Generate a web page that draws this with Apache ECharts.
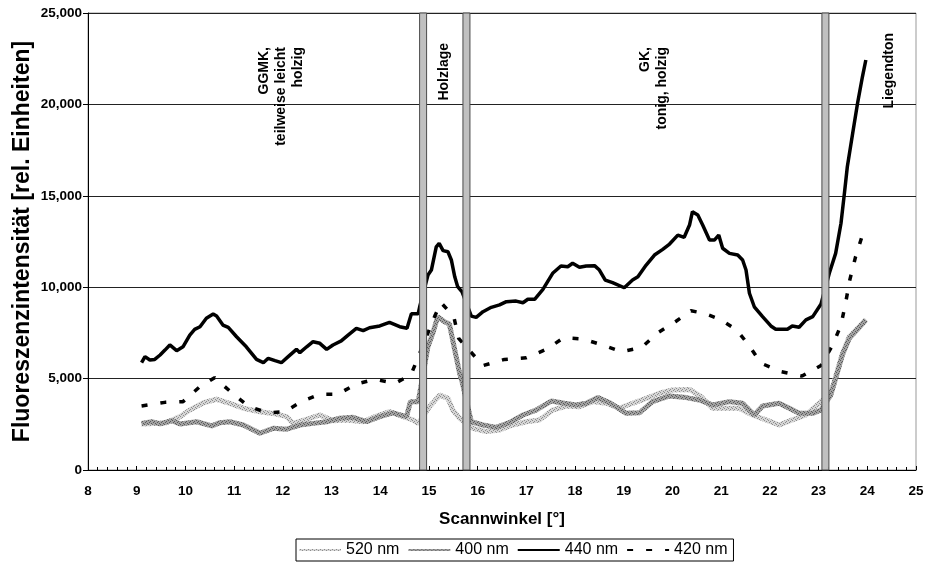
<!DOCTYPE html>
<html>
<head>
<meta charset="utf-8">
<script src="https://cdn.jsdelivr.net/npm/echarts@6/dist/echarts.min.js"></script>
<style>
  html, body { margin: 0; padding: 0; background: #fff; }
  #chart { width: 926px; height: 567px; }
</style>
</head>
<body>
<div id="chart"></div>
<script>
// Fluorescence intensity along the scan angle, four wavelengths: [angle, intensity]
const s520 = [[9.10,2520],[9.34,2550],[9.61,2590],[9.89,2920],[10.09,3280],[10.37,3680],[10.64,3870],[10.91,3650],[11.19,3380],[11.53,3190],[11.87,3060],[12.08,2920],[12.21,2550],[12.55,2830],[12.76,3010],[13.03,2700],[13.31,2740],[13.65,2640],[13.92,2950],[14.19,3190],[14.47,2920],[14.67,2740],[14.78,2550],[15.01,3460],[15.22,4100],[15.39,3920],[15.49,3280],[15.63,2830],[15.90,2280],[16.18,2100],[16.45,2190],[16.72,2460],[17.00,2640],[17.27,2740],[17.54,3280],[17.82,3500],[18.09,3460],[18.36,3740],[18.64,3650],[18.91,3380],[19.18,3650],[19.46,3920],[19.73,4200],[20.00,4380],[20.35,4410],[20.59,4010],[20.82,3380],[21.10,3380],[21.37,3380],[21.64,3010],[21.92,2740],[22.19,2460],[22.46,2740],[22.74,3010],[23.05,3740],[23.25,4200],[23.35,5100],[23.49,6380],[23.63,7290],[23.80,7750],[23.97,8240]];
const s400 = [[9.10,2550],[9.31,2640],[9.48,2520],[9.72,2700],[9.89,2520],[10.23,2640],[10.54,2410],[10.71,2590],[10.91,2640],[11.19,2460],[11.53,2010],[11.80,2280],[12.08,2230],[12.35,2460],[12.62,2550],[12.90,2640],[13.17,2830],[13.44,2880],[13.72,2640],[13.99,2920],[14.26,3130],[14.54,2920],[14.62,3740],[14.78,3740],[14.98,6750],[15.08,7480],[15.18,8390],[15.32,8110],[15.42,7990],[15.53,6560],[15.63,5290],[15.68,4830],[15.87,2640],[16.11,2460],[16.38,2330],[16.65,2590],[16.93,3010],[17.20,3280],[17.51,3770],[17.78,3650],[18.02,3560],[18.23,3650],[18.47,3960],[18.71,3680],[19.05,3100],[19.32,3130],[19.59,3740],[19.94,4050],[20.28,3960],[20.55,3830],[20.82,3560],[21.17,3740],[21.44,3650],[21.68,3010],[21.85,3500],[22.19,3650],[22.40,3380],[22.60,3100],[22.88,3100],[23.05,3280],[23.25,4100],[23.35,5000],[23.49,6300],[23.63,7200],[23.80,7700],[23.97,8200]];
const s440 = [[9.10,5870],[9.17,6200],[9.27,6020],[9.37,6050],[9.48,6290],[9.58,6560],[9.68,6840],[9.82,6530],[9.95,6740],[10.09,7380],[10.19,7690],[10.30,7840],[10.43,8300],[10.57,8530],[10.64,8420],[10.77,7930],[10.88,7800],[11.05,7290],[11.25,6740],[11.46,6050],[11.60,5870],[11.70,6110],[11.84,5980],[11.97,5870],[12.11,6200],[12.28,6600],[12.35,6420],[12.49,6740],[12.62,7020],[12.76,6930],[12.90,6600],[13.03,6840],[13.20,7060],[13.34,7380],[13.51,7750],[13.65,7620],[13.78,7780],[13.99,7880],[14.19,8080],[14.40,7840],[14.55,7750],[14.64,8550],[14.78,8550],[14.81,8930],[14.98,10670],[15.05,10940],[15.15,12210],[15.21,12400],[15.29,12000],[15.39,11940],[15.46,11490],[15.53,10570],[15.59,10030],[15.68,9750],[15.87,8420],[15.97,8350],[16.11,8660],[16.28,8900],[16.45,9030],[16.59,9210],[16.79,9240],[16.93,9150],[17.03,9340],[17.17,9340],[17.34,9880],[17.54,10760],[17.71,11160],[17.85,11120],[17.95,11310],[18.09,11090],[18.23,11160],[18.40,11180],[18.50,10940],[18.62,10390],[18.77,10250],[19.01,9970],[19.18,10390],[19.29,10570],[19.46,11210],[19.63,11760],[19.80,12070],[19.94,12360],[20.11,12850],[20.24,12730],[20.35,13400],[20.41,14130],[20.52,13950],[20.62,13400],[20.76,12580],[20.86,12580],[20.95,12850],[21.03,12130],[21.17,11850],[21.34,11760],[21.44,11490],[21.51,10940],[21.58,9670],[21.68,8930],[21.85,8390],[22.02,7880],[22.12,7700],[22.36,7700],[22.46,7880],[22.60,7810],[22.74,8210],[22.88,8390],[23.05,9080],[23.22,10760],[23.35,11850],[23.46,13500],[23.53,15130],[23.59,16590],[23.70,18420],[23.80,20060],[23.90,21510],[23.97,22430]];
const s420 = [[9.10,3500],[9.58,3700],[9.95,3740],[10.28,4520],[10.60,5050],[10.95,4230],[11.31,3460],[11.70,3130],[12.04,3190],[12.38,3740],[12.76,4140],[13.13,4140],[13.50,4700],[13.89,4960],[14.30,4740],[14.63,5200],[15.12,8420],[15.25,9150],[15.51,8390],[15.61,7200],[16.11,5710],[16.55,6050],[17.00,6140],[17.41,6600],[17.77,7240],[18.16,7170],[18.56,6840],[18.96,6470],[19.37,6710],[19.70,7510],[20.06,8110],[20.38,8710],[20.65,8570],[20.98,8240],[21.32,7660],[21.58,6780],[21.82,5840],[22.23,5380],[22.66,5140],[23.05,5720],[23.29,6840],[23.46,7930],[23.56,9210],[23.64,10390],[23.76,11670],[23.90,12850],[23.97,13100]];

const seriesNames = ['520 nm', '400 nm', '440 nm', '420 nm'];

// Layer boundaries (scan angle) and the layer names written above them
const boundaryAngles = [14.88, 15.77, 23.14];
const layerLabels = ['GGMK,\nteilweise leicht\nholzig', 'Holzlage', 'GK,\ntonig, holzig', 'Liegendton'];

// Axis ranges
const xMin = 8, xMax = 25, xStep = 1;
const yMin = 0, yMax = 25000, yStep = 5000;

const FONT = '"Liberation Sans", Arial, Helvetica, sans-serif';

// Small hatched tile so the grey curves get a textured stroke
function hatch(base, dot) {
  const c = document.createElement('canvas');
  c.width = 4; c.height = 4;
  const g = c.getContext('2d');
  g.fillStyle = base; g.fillRect(0, 0, 4, 4);
  g.fillStyle = dot;
  [[0, 0], [2, 1], [1, 2], [3, 3]].forEach(([x, y]) => g.fillRect(x, y, 1, 1));
  return { image: c, repeat: 'repeat' };
}

const chart = echarts.init(document.getElementById('chart'), null, { renderer: 'canvas' });

function lineSeries(name, data, lineStyle) {
  return {
    name, type: 'line', data, showSymbol: false, symbol: 'none',
    lineStyle, itemStyle: { color: lineStyle.color },
    emphasis: { disabled: true }, silent: true, z: 3
  };
}

function rotatedLabel(text, x, y) {
  return {
    type: 'text', x, y, rotation: Math.PI / 2, z: 20,
    style: {
      text, fill: '#000',
      font: 'bold 14px ' + FONT,
      textAlign: 'right', align: 'right',
      textVerticalAlign: 'middle', verticalAlign: 'middle',
      lineHeight: 17
    }
  };
}

chart.setOption({
  animation: false,
  backgroundColor: '#fff',
  grid: {
    left: 88, right: 10, top: 13, bottom: 97,
    outerBoundsMode: 'none',
    show: true, borderColor: '#999', borderWidth: 1
  },
  xAxis: {
    type: 'value', min: xMin, max: xMax, interval: xStep,
    name: 'Scannwinkel [°]', nameLocation: 'middle', nameGap: 41,
    nameTextStyle: { fontFamily: FONT, fontWeight: 'bold', fontSize: 17, color: '#000' },
    axisLine: { lineStyle: { color: '#000', width: 1 } },
    axisTick: { inside: true, length: 4, lineStyle: { color: '#000' } },
    minorTick: { show: true, splitNumber: 5, length: 3, lineStyle: { color: '#000' } },
    axisLabel: { fontFamily: FONT, fontWeight: 'bold', fontSize: 13.5, color: '#000', margin: 14 },
    splitLine: { show: false }
  },
  yAxis: {
    type: 'value', min: yMin, max: yMax, interval: yStep,
    name: 'Fluoreszenzintensität [rel. Einheiten]', nameLocation: 'middle', nameGap: 54,
    nameMoveOverlap: false,
    nameTextStyle: { fontFamily: FONT, fontWeight: 'bold', fontSize: 23, color: '#000' },
    axisLine: { show: true, lineStyle: { color: '#000', width: 1 } },
    axisTick: { show: true, inside: false, length: 5, lineStyle: { color: '#000' } },
    axisLabel: {
      fontFamily: FONT, fontWeight: 'bold', fontSize: 13.5, color: '#000', margin: 6,
      formatter: v => v.toLocaleString('en-US')
    },
    splitLine: { show: true, lineStyle: { color: '#222', width: 1 } }
  },
  legend: {
    data: seriesNames,
    left: 296, top: 539,
    padding: [3, 6, 3, 2],
    itemGap: 8, itemWidth: 42, itemHeight: 14,
    itemStyle: { opacity: 0 },
    borderColor: '#000', borderWidth: 1, borderRadius: 0,
    textStyle: { fontFamily: FONT, fontSize: 16, color: '#000' },
    selectedMode: false
  },
  series: [
    lineSeries(seriesNames[0], s520, { color: hatch('#d6d6d6', '#8c8c8c'), width: 5 }),
    lineSeries(seriesNames[1], s400, { color: hatch('#a2a2a2', '#5a5a5a'), width: 5 }),
    lineSeries(seriesNames[2], s440, { color: '#000', width: 3.5 }),
    lineSeries(seriesNames[3], s420, { color: '#000', width: 3.5, type: [6, 13] }),
    {
      // grey boundary bars between the layers
      type: 'custom', silent: true, z: 10,
      data: boundaryAngles.map(a => [a]),
      renderItem: (params, api) => {
        const top = api.coord([api.value(0), yMax]);
        const bottom = api.coord([api.value(0), yMin]);
        return {
          type: 'rect',
          shape: { x: top[0] - 3.5, y: top[1], width: 7, height: bottom[1] - top[1] },
          style: { fill: '#c0c0c0', stroke: '#4a4a4a', lineWidth: 1 }
        };
      }
    }
  ],
  graphic: [
    rotatedLabel(layerLabels[0], 281, 47),
    rotatedLabel(layerLabels[1], 444.5, 43),
    rotatedLabel(layerLabels[2], 653.5, 47),
    rotatedLabel(layerLabels[3], 889, 33)
  ]
});
</script>
</body>
</html>
